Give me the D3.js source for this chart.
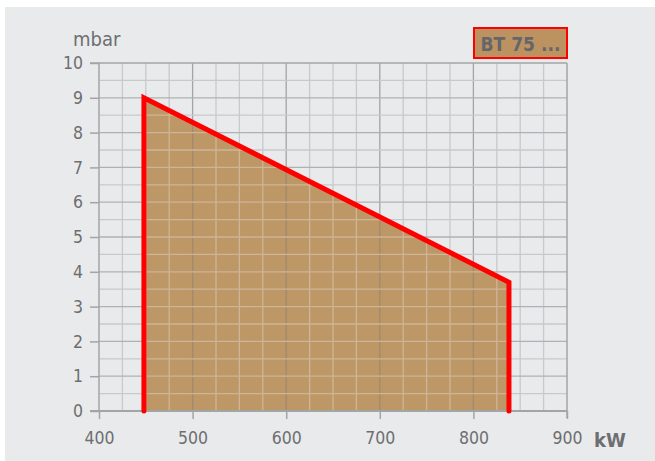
<!DOCTYPE html>
<html><head><meta charset="utf-8">
<script src="https://cdn.jsdelivr.net/npm/d3@7"></script>
<style>
html,body{margin:0;padding:0;background:#fff;}
svg{display:block;}
text{font-family:"DejaVu Sans Condensed","DejaVu Sans",sans-serif;}
</style></head><body>
<svg id="c" width="655" height="461"></svg>
<script>
const powerKW = [448, 448, 838, 838];
const pressureMbar = [0, 9, 3.7, 0];
const xTicks = [400, 500, 600, 700, 800, 900];
const yTicks = [0,1,2,3,4,5,6,7,8,9,10];
const legendLabel = "BT 75 ...";
const xUnit = "kW", yUnit = "mbar";

const svg = d3.select("#c");
svg.append("rect").attr("x",5).attr("y",7).attr("width",650).attr("height",454).attr("fill","#e9eaec");

const x = d3.scaleLinear().domain([400,900]).range([99,567]);
const y = d3.scaleLinear().domain([0,10]).range([411,63]);

const g = svg.append("g");
d3.range(425,900,25).forEach(v=>{
  g.append("line").attr("x1",x(v)).attr("x2",x(v)).attr("y1",y(0)).attr("y2",y(10))
   .attr("stroke", v%100===0 ? "#a3a4a6" : "#c8c9cb").attr("stroke-width",1.3);
});
d3.range(0.5,10,0.5).forEach(v=>{
  g.append("line").attr("x1",x(400)).attr("x2",x(900)).attr("y1",y(v)).attr("y2",y(v))
   .attr("stroke", Number.isInteger(v) ? "#b0b1b3" : "#c8c9cb").attr("stroke-width",1.3);
});

const pts = powerKW.map((p,i)=>[x(p),y(pressureMbar[i])]);
svg.append("path").attr("d", d3.line()(pts)+"Z").attr("fill","#bc9260").attr("fill-opacity",0.95);

const g2 = svg.append("g").attr("clip-path","url(#clp)");
svg.append("clipPath").attr("id","clp").append("path").attr("d", d3.line()(pts)+"Z");
d3.range(425,900,25).forEach(v=>{
  g2.append("line").attr("x1",x(v)).attr("x2",x(v)).attr("y1",y(0)).attr("y2",y(10))
   .attr("stroke", v%100===0 ? "#a08a70" : "#cfb597").attr("stroke-width",1.3);
});
d3.range(0.5,10,0.5).forEach(v=>{
  g2.append("line").attr("x1",x(400)).attr("x2",x(900)).attr("y1",y(v)).attr("y2",y(v))
   .attr("stroke", "#cfb597").attr("stroke-width",1.3);
});

const xa = svg.append("g").attr("transform",`translate(0,${y(0)})`)
  .call(d3.axisBottom(x).tickValues(xTicks).tickSize(8).tickPadding(13).tickFormat(d3.format("d")));
const ya = svg.append("g").attr("transform",`translate(${x(400)},0)`)
  .call(d3.axisLeft(y).tickValues(yTicks).tickSize(9).tickPadding(7).tickFormat(d3.format("d")));
[xa,ya].forEach(a=>{
  a.select(".domain").remove();
  a.selectAll("line").attr("stroke","#a3a4a6").attr("stroke-width",1.5);
  a.selectAll("text").attr("fill","#6d6e70").attr("font-size",17.5);
});
svg.append("line").attr("x1",x(400)-9).attr("x2",x(900)).attr("y1",y(0)).attr("y2",y(0)).attr("stroke","#a3a4a6").attr("stroke-width",2);
svg.append("line").attr("x1",x(400)).attr("x2",x(400)).attr("y1",y(0)).attr("y2",y(10)).attr("stroke","#a3a4a6").attr("stroke-width",1.5);
svg.append("line").attr("x1",x(900)).attr("x2",x(900)).attr("y1",y(0)+7).attr("y2",y(10)).attr("stroke","#a3a4a6").attr("stroke-width",1.5);
svg.append("line").attr("x1",x(400)-9).attr("x2",x(900)).attr("y1",y(10)).attr("y2",y(10)).attr("stroke","#a3a4a6").attr("stroke-width",1.5);

svg.append("path").attr("d", d3.line()(pts)).attr("fill","none").attr("stroke","#ff0000")
  .attr("stroke-width",5).attr("stroke-linejoin","miter").attr("stroke-linecap","round");

svg.append("text").attr("x",73).attr("y",46).attr("fill","#6d6e70").attr("font-size",20).text(yUnit);
svg.append("text").attr("x",594).attr("y",447).attr("fill","#6d6e70").attr("font-size",20).attr("font-weight","bold").text(xUnit);

svg.append("rect").attr("x",474).attr("y",28).attr("width",93).attr("height",30)
  .attr("fill","#bc9260").attr("stroke","#ff0000").attr("stroke-width",2);
svg.append("text").attr("x",520.5).attr("y",50.5).attr("text-anchor","middle").attr("fill","#66666a")
  .attr("font-size",19).attr("font-weight","bold").text(legendLabel);
</script></body></html>
